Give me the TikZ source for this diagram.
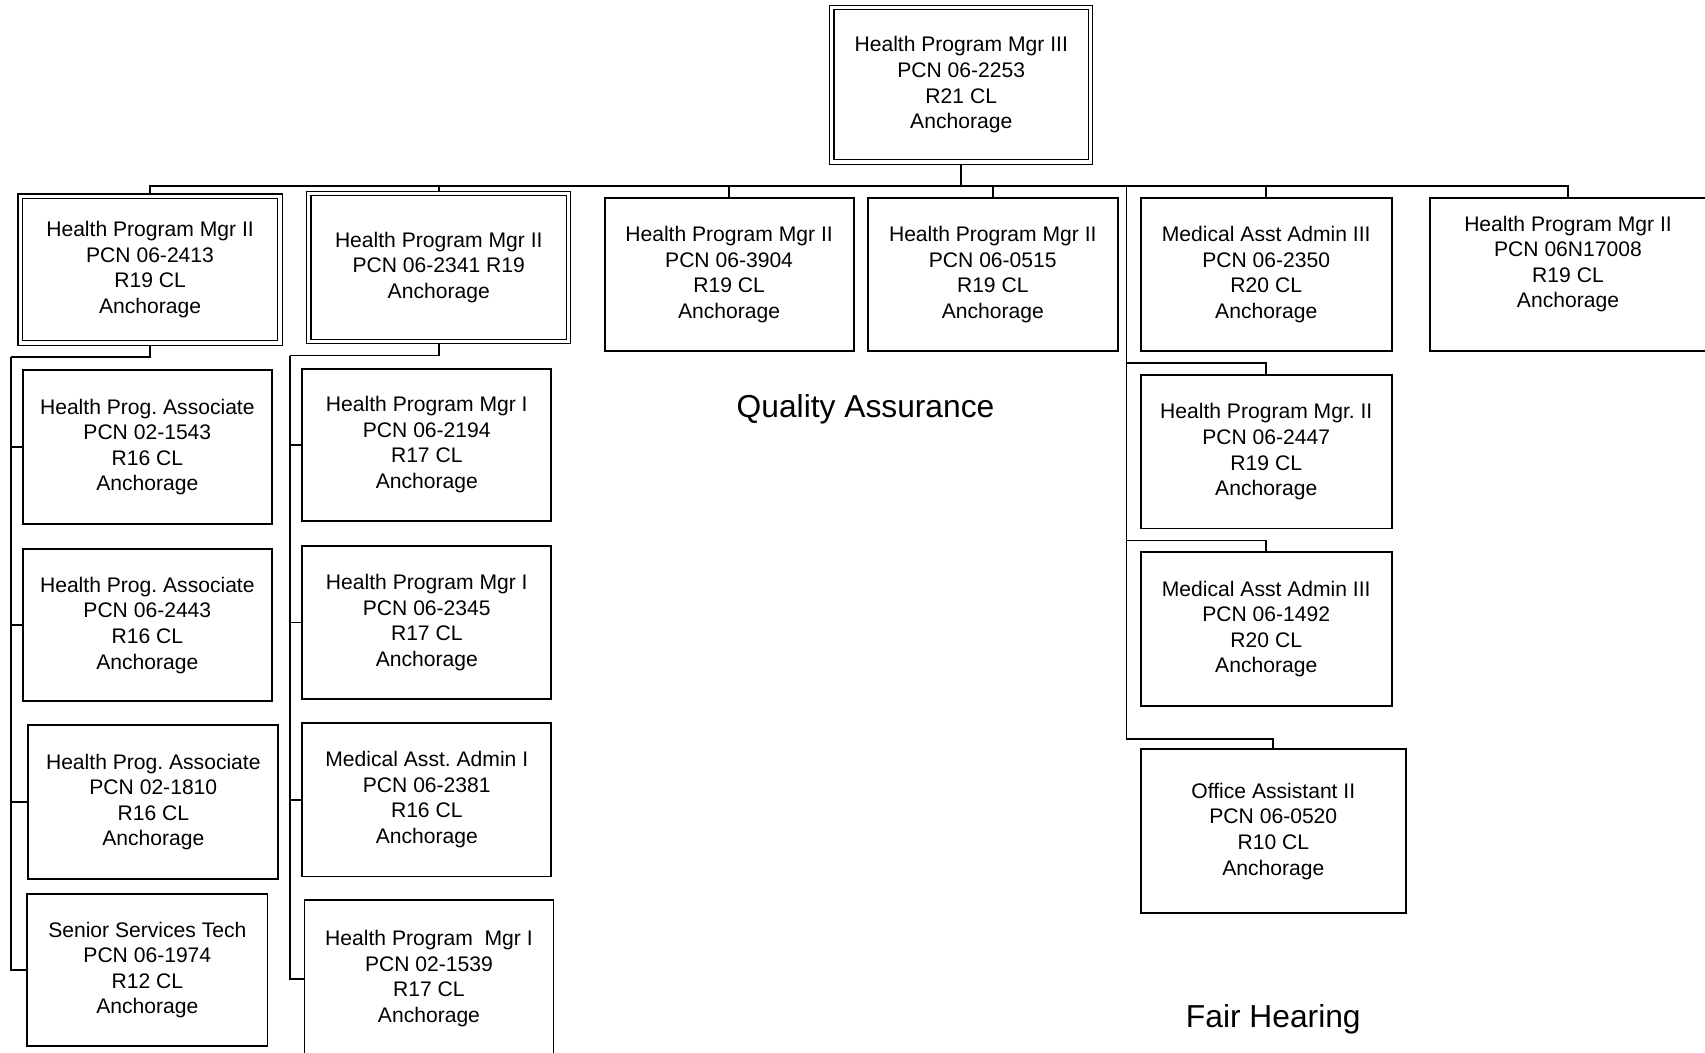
\documentclass[tikz,border=0pt]{standalone}
\usepackage{fontspec}
\setmainfont{Liberation Sans}
\frenchspacing
\usetikzlibrary{backgrounds}
\tikzset{
  pbox/.style={draw=black, line width=0.85pt, fill=white, rectangle, inner sep=0pt, align=center,
    font=\fontsize{9.7}{11.75}\selectfont},
  dbox/.style={pbox, line width=0.55pt, double=white, double distance=1.45pt},
  conn/.style={draw=black, line width=0.85pt},
  big/.style={inner sep=0pt, font=\fontsize{14.6}{17}\selectfont}
}
\begin{document}
\begin{tikzpicture}[x=0.5pt, y=-0.5pt]
\useasboundingbox (0,0) rectangle (1568,967.5);
\clip (0,0) rectangle (1568,967.5);

% top
\node[dbox, minimum width=119pt, minimum height=71pt] (t) at (884,78)
  {Health Program Mgr III\\PCN 06-2253\\R21 CL\\Anchorage};

% level 2
\node[dbox, minimum width=119.5pt, minimum height=67.5pt] (b1) at (138,248)
  {Health Program Mgr II\\PCN 06-2413\\R19 CL\\Anchorage};
\node[dbox, minimum width=119.5pt, minimum height=68pt] (b2) at (403.5,246)
  {Health Program Mgr II\\PCN 06-2341 R19\\Anchorage};
\node[pbox, minimum width=114.5pt, minimum height=70.5pt] (b3) at (670.5,252.5)
  {Health Program Mgr II\\PCN 06-3904\\R19 CL\\Anchorage};
\node[pbox, minimum width=115pt, minimum height=70.5pt] (b4) at (913,252.5)
  {Health Program Mgr II\\PCN 06-0515\\R19 CL\\Anchorage};
\node[pbox, minimum width=115.5pt, minimum height=70.5pt] (b5) at (1164.5,252.5)
  {Medical Asst Admin III\\PCN 06-2350\\R20 CL\\Anchorage};
\node[pbox, minimum width=127pt, minimum height=70.5pt] (b6) at (1442,252.5)
  {Health Program Mgr II\\PCN 06N17008\\R19 CL\\Anchorage\\\mbox{}};

% column under b1
\node[pbox, minimum width=114.5pt, minimum height=71pt] (c1) at (135.5,411)
  {Health Prog. Associate\\PCN 02-1543\\R16 CL\\Anchorage};
\node[pbox, minimum width=114.5pt, minimum height=70pt] (c2) at (135.5,575)
  {Health Prog. Associate\\PCN 06-2443\\R16 CL\\Anchorage};
\node[pbox, minimum width=115pt, minimum height=70.5pt] (c3) at (141,737.5)
  {Health Prog. Associate\\PCN 02-1810\\R16 CL\\Anchorage};
\node[pbox, minimum width=110.5pt, minimum height=70pt] (c4) at (135.5,892)
  {Senior Services Tech\\PCN 06-1974\\R12 CL\\Anchorage};

% column under b2
\node[pbox, minimum width=114.5pt, minimum height=70pt] (d1) at (392.5,409)
  {Health Program Mgr I\\PCN 06-2194\\R17 CL\\Anchorage};
\node[pbox, minimum width=114.5pt, minimum height=70.5pt] (d2) at (392.5,572.5)
  {Health Program Mgr I\\PCN 06-2345\\R17 CL\\Anchorage};
\node[pbox, minimum width=114.5pt, minimum height=70.5pt] (d3) at (392.5,735.5)
  {Medical Asst. Admin I\\PCN 06-2381\\R16 CL\\Anchorage};
\node[pbox, minimum width=114.5pt, minimum height=72pt] (d4) at (394.5,900)
  {Health Program\ \ Mgr I\\PCN 02-1539\\R17 CL\\Anchorage};

% column right of b4
\node[pbox, minimum width=115.5pt, minimum height=70.5pt] (e1) at (1164.5,415.5)
  {Health Program Mgr. II\\PCN 06-2447\\R19 CL\\Anchorage};
\node[pbox, minimum width=115.5pt, minimum height=70.5pt] (e2) at (1164.5,578.5)
  {Medical Asst Admin III\\PCN 06-1492\\R20 CL\\Anchorage};
\node[pbox, minimum width=122pt, minimum height=75.5pt] (e3) at (1171,764.5)
  {Office Assistant II\\PCN 06-0520\\R10 CL\\Anchorage};

% section titles
\node[big] (qa) at (796,376) {Quality Assurance};
\node[big] (fh) at (1171,937) {Fair Hearing};

% connector joints
\coordinate (bus) at (884,171);
\coordinate (s1) at (10,328);
\coordinate (s2) at (267,327);
\coordinate (s3) at (1036,171);
\coordinate (k1) at (1164.5,334);
\coordinate (k2) at (1164.5,497);
\coordinate (k3) at (1171,680);

\begin{scope}[on background layer]
  \fill[white] (0,0) rectangle (1568,967.5);
  \draw[conn] (t.south) -- (bus);
  \draw[conn] (b1.north) |- (bus);
  \draw[conn] (b2.north) |- (bus);
  \draw[conn] (b3.north) |- (bus);
  \draw[conn] (b4.north) |- (bus);
  \draw[conn] (b5.north) |- (bus);
  \draw[conn] (b6.north) |- (bus);

  \draw[conn] (b1.south) |- (s1);
  \draw[conn] (s1) |- (c1.west);
  \draw[conn] (s1) |- (c2.west);
  \draw[conn] (s1) |- (c3.west);
  \draw[conn] (s1) |- (c4.west);

  \draw[conn] (b2.south) |- (s2);
  \draw[conn] (s2) |- (d1.west);
  \draw[conn] (s2) |- (d2.west);
  \draw[conn] (s2) |- (d3.west);
  \draw[conn] (s2) |- (d4.west);

  \draw[conn] (s3) |- (k1) -- (e1.north);
  \draw[conn] (s3) |- (k2) -- (e2.north);
  \draw[conn] (s3) |- (k3) -- (e3.north);
\end{scope}
\end{tikzpicture}
\end{document}
